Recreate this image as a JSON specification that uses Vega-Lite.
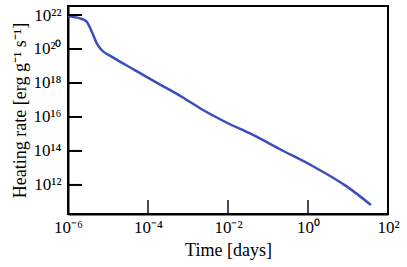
{
  "$schema": "https://vega.github.io/schema/vega-lite/v6.json",
  "autosize": "none",
  "width": 320,
  "height": 208,
  "padding": {"left": 68, "top": 6, "right": 19, "bottom": 53},
  "background": "white",
  "config": {
    "font": "Liberation Serif",
    "scale": {"continuousPadding": 0},
    "view": {"stroke": "black", "strokeWidth": 2},
    "axis": {
      "domainColor": "black", "domainWidth": 2,
      "ticks": false,
      "labelFont": "Liberation Serif", "labelFontSize": 17, "labelColor": "black",
      "titleFont": "Liberation Serif", "titleFontSize": 18, "titleFontWeight": "normal", "titleColor": "black",
      "grid": false
    }
  },
  "datasets": {
    "curve": [
      {"t": 1e-6, "q": 8.318e21},
      {"t": 1.413e-6, "q": 7.586e21},
      {"t": 1.995e-6, "q": 6.310e21},
      {"t": 2.512e-6, "q": 5.248e21},
      {"t": 2.951e-6, "q": 3.981e21},
      {"t": 3.548e-6, "q": 1.778e21},
      {"t": 4.266e-6, "q": 6.607e20},
      {"t": 5.248e-6, "q": 2.138e20},
      {"t": 6.918e-6, "q": 8.710e19},
      {"t": 1.230e-5, "q": 3.548e19},
      {"t": 4.677e-5, "q": 5.754e18},
      {"t": 1.778e-4, "q": 9.550e17},
      {"t": 6.918e-4, "q": 1.549e17},
      {"t": 2.371e-3, "q": 2.570e16},
      {"t": 9.441e-3, "q": 4.571e15},
      {"t": 4.217e-2, "q": 8.710e14},
      {"t": 0.1995, "q": 1.259e14},
      {"t": 1.334, "q": 1.259e13},
      {"t": 9.441, "q": 7.943e11},
      {"t": 37.58, "q": 6.607e10}
    ],
    "xticks": [{"t": 0.0001}, {"t": 0.01}, {"t": 1}],
    "yticks": [{"q": 1e12}, {"q": 1e14}, {"q": 1e16}, {"q": 1e18}, {"q": 1e20}, {"q": 1e22}]
  },
  "layer": [
    {
      "data": {"name": "curve"},
      "mark": {"type": "line", "color": "#3b4cc0", "strokeWidth": 2.5, "interpolate": "monotone", "clip": true},
      "encoding": {
        "x": {
          "field": "t", "type": "quantitative",
          "scale": {"type": "log", "domain": [1e-6, 100], "nice": false, "padding": 0},
          "axis": {
            "title": "Time [days]",
            "values": [1e-6, 1e-4, 1e-2, 1, 100],
            "labelExpr": "round(log(datum.value)/LN10) == -6 ? '10⁻⁶' : round(log(datum.value)/LN10) == -4 ? '10⁻⁴' : round(log(datum.value)/LN10) == -2 ? '10⁻²' : round(log(datum.value)/LN10) == 0 ? '10⁰' : '10²'",
            "labelPadding": 5,
            "titlePadding": 6,
            "labelFlush": false
          }
        },
        "y": {
          "field": "q", "type": "quantitative",
          "scale": {"type": "log", "domain": [1.95e10, 3.39e22], "nice": false, "padding": 0},
          "axis": {
            "title": "Heating rate [erg g⁻¹ s⁻¹]",
            "values": [1e12, 1e14, 1e16, 1e18, 1e20, 1e22],
            "labelExpr": "round(log(datum.value)/LN10) == 12 ? '10¹²' : round(log(datum.value)/LN10) == 14 ? '10¹⁴' : round(log(datum.value)/LN10) == 16 ? '10¹⁶' : round(log(datum.value)/LN10) == 18 ? '10¹⁸' : round(log(datum.value)/LN10) == 20 ? '10²⁰' : '10²²'",
            "labelPadding": 7,
            "titlePadding": 3
          }
        }
      }
    },
    {
      "data": {"name": "xticks"},
      "mark": {"type": "tick", "color": "black", "thickness": 2, "size": 14, "orient": "vertical", "yOffset": -7},
      "encoding": {
        "x": {"field": "t", "type": "quantitative"},
        "y": {"datum": 1.95e10}
      }
    },
    {
      "data": {"name": "yticks"},
      "mark": {"type": "bar", "color": "black", "height": 2, "orient": "horizontal"},
      "encoding": {
        "y": {"field": "q", "type": "quantitative"},
        "x": {"datum": 0.000001},
        "x2": {"datum": 0.000002239}
      }
    }
  ]
}
